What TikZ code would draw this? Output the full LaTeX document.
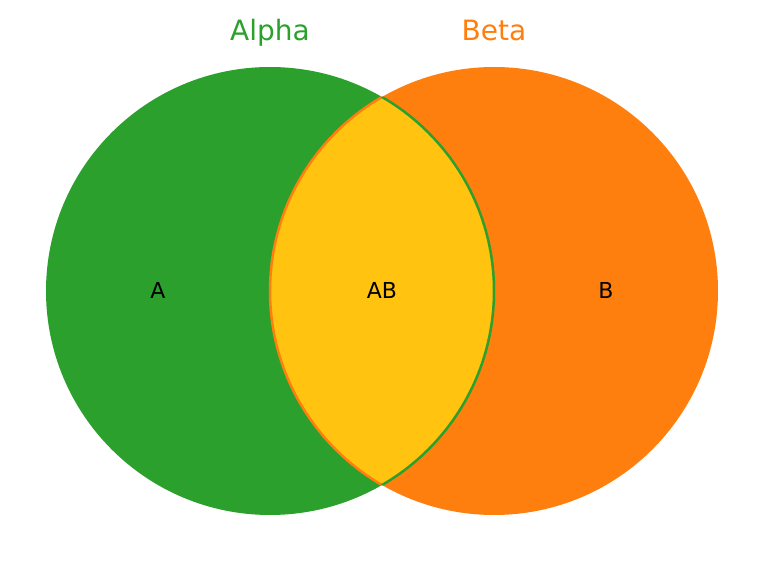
\documentclass[tikz,border=0pt]{standalone}
\usepackage{fontspec}
\setmainfont{DejaVu Sans}
\definecolor{alphagreen}{HTML}{2CA02C}
\definecolor{betaorange}{HTML}{FF7F0E}
\definecolor{overlapyellow}{HTML}{FFC310}
\tikzset{
  setname/.style={anchor=base, font=\fontsize{28}{34}\selectfont},
  regionlabel/.style={anchor=base, font=\fontsize{22}{26}\selectfont, text=black},
  rim/.style={line width=2.5pt}
}
\begin{document}
\begin{tikzpicture}[x=1pt,y=-1pt]
  \useasboundingbox (0,0) rectangle (764,561);
  \coordinate (ca) at (270,291);
  \coordinate (cb) at (494,291);
  \fill[alphagreen] (ca) circle[radius=224];
  \fill[betaorange] (cb) circle[radius=224];
  % overlap
  \begin{scope}
    \clip (ca) circle[radius=224];
    \fill[overlapyellow] (cb) circle[radius=224];
    \draw[rim, betaorange] (cb) circle[radius=224];
  \end{scope}
  \begin{scope}
    \clip (cb) circle[radius=224];
    \draw[rim, alphagreen] (ca) circle[radius=224];
  \end{scope}
  \node[setname, text=alphagreen] (alpha) at (270,41) {Alpha};
  \node[setname, text=betaorange] (beta) at (494,41) {Beta};
  \node[regionlabel] (a) at (158,299) {A};
  \node[regionlabel] (ab) at (382,299) {AB};
  \node[regionlabel] (b) at (606,299) {B};
\end{tikzpicture}
\end{document}
